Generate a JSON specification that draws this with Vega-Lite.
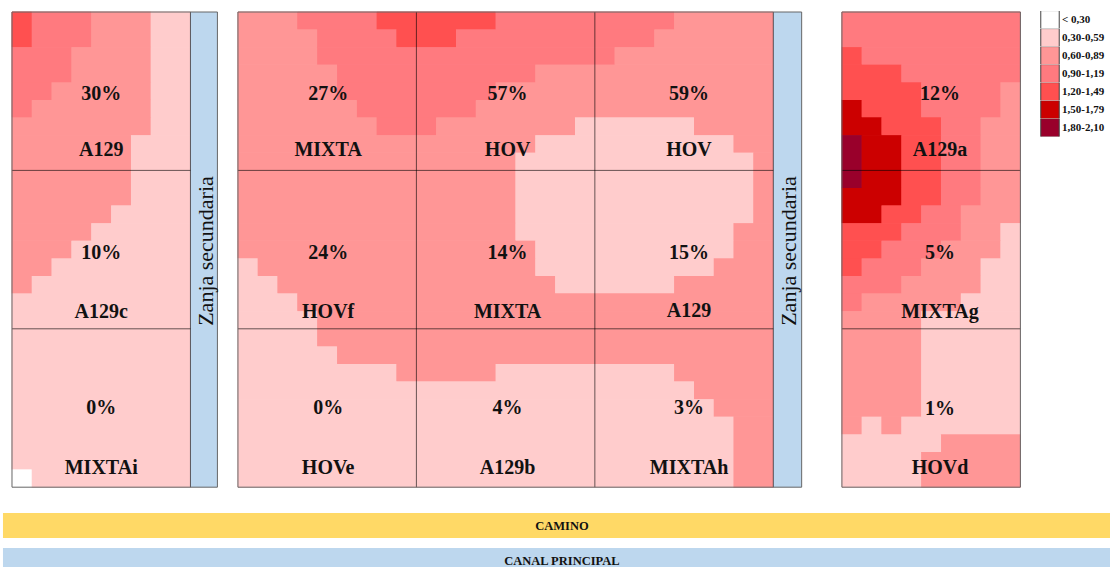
{"$schema":"https://vega.github.io/schema/vega-lite/v6.json","width":1110,"height":567,"padding":0,"autosize":{"type":"pad"},"background":"white","config":{"view":{"stroke":null}},
"data":{"values":[
{"t":"cell","p":1,"r":0,"r2":2,"c":0,"c2":1,"k":"1,20-1,49"},{"t":"cell","p":1,"r":0,"r2":2,"c":1,"c2":4,"k":"0,90-1,19"},{"t":"cell","p":1,"r":0,"r2":2,"c":4,"c2":7,"k":"0,60-0,89"},{"t":"cell","p":1,"r":0,"r2":2,"c":7,"c2":9,"k":"0,30-0,59"},
{"t":"cell","p":1,"r":2,"r2":4,"c":0,"c2":3,"k":"0,90-1,19"},{"t":"cell","p":1,"r":2,"r2":4,"c":3,"c2":7,"k":"0,60-0,89"},{"t":"cell","p":1,"r":2,"r2":4,"c":7,"c2":9,"k":"0,30-0,59"},
{"t":"cell","p":1,"r":4,"r2":5,"c":0,"c2":2,"k":"0,90-1,19"},{"t":"cell","p":1,"r":4,"r2":5,"c":2,"c2":7,"k":"0,60-0,89"},{"t":"cell","p":1,"r":4,"r2":5,"c":7,"c2":9,"k":"0,30-0,59"},
{"t":"cell","p":1,"r":5,"r2":6,"c":0,"c2":1,"k":"0,90-1,19"},{"t":"cell","p":1,"r":5,"r2":6,"c":1,"c2":7,"k":"0,60-0,89"},{"t":"cell","p":1,"r":5,"r2":6,"c":7,"c2":9,"k":"0,30-0,59"},
{"t":"cell","p":1,"r":6,"r2":7,"c":0,"c2":7,"k":"0,60-0,89"},{"t":"cell","p":1,"r":6,"r2":7,"c":7,"c2":9,"k":"0,30-0,59"},
{"t":"cell","p":1,"r":7,"r2":11,"c":0,"c2":6,"k":"0,60-0,89"},{"t":"cell","p":1,"r":7,"r2":11,"c":6,"c2":9,"k":"0,30-0,59"},
{"t":"cell","p":1,"r":11,"r2":12,"c":0,"c2":5,"k":"0,60-0,89"},{"t":"cell","p":1,"r":11,"r2":12,"c":5,"c2":9,"k":"0,30-0,59"},
{"t":"cell","p":1,"r":12,"r2":13,"c":0,"c2":4,"k":"0,60-0,89"},{"t":"cell","p":1,"r":12,"r2":13,"c":4,"c2":9,"k":"0,30-0,59"},
{"t":"cell","p":1,"r":13,"r2":14,"c":0,"c2":3,"k":"0,60-0,89"},{"t":"cell","p":1,"r":13,"r2":14,"c":3,"c2":9,"k":"0,30-0,59"},
{"t":"cell","p":1,"r":14,"r2":15,"c":0,"c2":2,"k":"0,60-0,89"},{"t":"cell","p":1,"r":14,"r2":15,"c":2,"c2":9,"k":"0,30-0,59"},
{"t":"cell","p":1,"r":15,"r2":16,"c":0,"c2":1,"k":"0,60-0,89"},{"t":"cell","p":1,"r":15,"r2":16,"c":1,"c2":9,"k":"0,30-0,59"},
{"t":"cell","p":1,"r":16,"r2":26,"c":0,"c2":9,"k":"0,30-0,59"},
{"t":"cell","p":1,"r":26,"r2":27,"c":0,"c2":1,"k":"< 0,30"},{"t":"cell","p":1,"r":26,"r2":27,"c":1,"c2":9,"k":"0,30-0,59"},

{"t":"cell","p":2,"r":0,"r2":1,"c":0,"c2":3,"k":"0,60-0,89"},{"t":"cell","p":2,"r":0,"r2":1,"c":3,"c2":7,"k":"0,90-1,19"},{"t":"cell","p":2,"r":0,"r2":1,"c":7,"c2":13,"k":"1,20-1,49"},{"t":"cell","p":2,"r":0,"r2":1,"c":13,"c2":22,"k":"0,90-1,19"},{"t":"cell","p":2,"r":0,"r2":1,"c":22,"c2":27,"k":"0,60-0,89"},
{"t":"cell","p":2,"r":1,"r2":2,"c":0,"c2":4,"k":"0,60-0,89"},{"t":"cell","p":2,"r":1,"r2":2,"c":4,"c2":8,"k":"0,90-1,19"},{"t":"cell","p":2,"r":1,"r2":2,"c":8,"c2":11,"k":"1,20-1,49"},{"t":"cell","p":2,"r":1,"r2":2,"c":11,"c2":21,"k":"0,90-1,19"},{"t":"cell","p":2,"r":1,"r2":2,"c":21,"c2":27,"k":"0,60-0,89"},
{"t":"cell","p":2,"r":2,"r2":3,"c":0,"c2":4,"k":"0,60-0,89"},{"t":"cell","p":2,"r":2,"r2":3,"c":4,"c2":19,"k":"0,90-1,19"},{"t":"cell","p":2,"r":2,"r2":3,"c":19,"c2":27,"k":"0,60-0,89"},
{"t":"cell","p":2,"r":3,"r2":4,"c":0,"c2":5,"k":"0,60-0,89"},{"t":"cell","p":2,"r":3,"r2":4,"c":5,"c2":15,"k":"0,90-1,19"},{"t":"cell","p":2,"r":3,"r2":4,"c":15,"c2":27,"k":"0,60-0,89"},
{"t":"cell","p":2,"r":4,"r2":5,"c":0,"c2":5,"k":"0,60-0,89"},{"t":"cell","p":2,"r":4,"r2":5,"c":5,"c2":13,"k":"0,90-1,19"},{"t":"cell","p":2,"r":4,"r2":5,"c":13,"c2":27,"k":"0,60-0,89"},
{"t":"cell","p":2,"r":5,"r2":6,"c":0,"c2":6,"k":"0,60-0,89"},{"t":"cell","p":2,"r":5,"r2":6,"c":6,"c2":12,"k":"0,90-1,19"},{"t":"cell","p":2,"r":5,"r2":6,"c":12,"c2":27,"k":"0,60-0,89"},
{"t":"cell","p":2,"r":6,"r2":7,"c":0,"c2":7,"k":"0,60-0,89"},{"t":"cell","p":2,"r":6,"r2":7,"c":7,"c2":10,"k":"0,90-1,19"},{"t":"cell","p":2,"r":6,"r2":7,"c":10,"c2":17,"k":"0,60-0,89"},{"t":"cell","p":2,"r":6,"r2":7,"c":17,"c2":23,"k":"0,30-0,59"},{"t":"cell","p":2,"r":6,"r2":7,"c":23,"c2":27,"k":"0,60-0,89"},
{"t":"cell","p":2,"r":7,"r2":8,"c":0,"c2":15,"k":"0,60-0,89"},{"t":"cell","p":2,"r":7,"r2":8,"c":15,"c2":25,"k":"0,30-0,59"},{"t":"cell","p":2,"r":7,"r2":8,"c":25,"c2":27,"k":"0,60-0,89"},
{"t":"cell","p":2,"r":8,"r2":12,"c":0,"c2":14,"k":"0,60-0,89"},{"t":"cell","p":2,"r":8,"r2":12,"c":14,"c2":26,"k":"0,30-0,59"},{"t":"cell","p":2,"r":8,"r2":12,"c":26,"c2":27,"k":"0,60-0,89"},
{"t":"cell","p":2,"r":12,"r2":13,"c":0,"c2":14,"k":"0,60-0,89"},{"t":"cell","p":2,"r":12,"r2":13,"c":14,"c2":25,"k":"0,30-0,59"},{"t":"cell","p":2,"r":12,"r2":13,"c":25,"c2":27,"k":"0,60-0,89"},
{"t":"cell","p":2,"r":13,"r2":14,"c":0,"c2":15,"k":"0,60-0,89"},{"t":"cell","p":2,"r":13,"r2":14,"c":15,"c2":25,"k":"0,30-0,59"},{"t":"cell","p":2,"r":13,"r2":14,"c":25,"c2":27,"k":"0,60-0,89"},
{"t":"cell","p":2,"r":14,"r2":15,"c":0,"c2":1,"k":"0,30-0,59"},{"t":"cell","p":2,"r":14,"r2":15,"c":1,"c2":15,"k":"0,60-0,89"},{"t":"cell","p":2,"r":14,"r2":15,"c":15,"c2":24,"k":"0,30-0,59"},{"t":"cell","p":2,"r":14,"r2":15,"c":24,"c2":27,"k":"0,60-0,89"},
{"t":"cell","p":2,"r":15,"r2":16,"c":0,"c2":2,"k":"0,30-0,59"},{"t":"cell","p":2,"r":15,"r2":16,"c":2,"c2":16,"k":"0,60-0,89"},{"t":"cell","p":2,"r":15,"r2":16,"c":16,"c2":22,"k":"0,30-0,59"},{"t":"cell","p":2,"r":15,"r2":16,"c":22,"c2":27,"k":"0,60-0,89"},
{"t":"cell","p":2,"r":16,"r2":17,"c":0,"c2":3,"k":"0,30-0,59"},{"t":"cell","p":2,"r":16,"r2":17,"c":3,"c2":27,"k":"0,60-0,89"},
{"t":"cell","p":2,"r":17,"r2":19,"c":0,"c2":4,"k":"0,30-0,59"},{"t":"cell","p":2,"r":17,"r2":19,"c":4,"c2":27,"k":"0,60-0,89"},
{"t":"cell","p":2,"r":19,"r2":20,"c":0,"c2":5,"k":"0,30-0,59"},{"t":"cell","p":2,"r":19,"r2":20,"c":5,"c2":27,"k":"0,60-0,89"},
{"t":"cell","p":2,"r":20,"r2":21,"c":0,"c2":8,"k":"0,30-0,59"},{"t":"cell","p":2,"r":20,"r2":21,"c":8,"c2":13,"k":"0,60-0,89"},{"t":"cell","p":2,"r":20,"r2":21,"c":13,"c2":22,"k":"0,30-0,59"},{"t":"cell","p":2,"r":20,"r2":21,"c":22,"c2":27,"k":"0,60-0,89"},
{"t":"cell","p":2,"r":21,"r2":22,"c":0,"c2":23,"k":"0,30-0,59"},{"t":"cell","p":2,"r":21,"r2":22,"c":23,"c2":27,"k":"0,60-0,89"},
{"t":"cell","p":2,"r":22,"r2":23,"c":0,"c2":24,"k":"0,30-0,59"},{"t":"cell","p":2,"r":22,"r2":23,"c":24,"c2":27,"k":"0,60-0,89"},
{"t":"cell","p":2,"r":23,"r2":27,"c":0,"c2":25,"k":"0,30-0,59"},{"t":"cell","p":2,"r":23,"r2":27,"c":25,"c2":27,"k":"0,60-0,89"},

{"t":"cell","p":3,"r":0,"r2":2,"c":0,"c2":9,"k":"0,90-1,19"},
{"t":"cell","p":3,"r":2,"r2":3,"c":0,"c2":1,"k":"1,20-1,49"},{"t":"cell","p":3,"r":2,"r2":3,"c":1,"c2":9,"k":"0,90-1,19"},
{"t":"cell","p":3,"r":3,"r2":4,"c":0,"c2":3,"k":"1,20-1,49"},{"t":"cell","p":3,"r":3,"r2":4,"c":3,"c2":9,"k":"0,90-1,19"},
{"t":"cell","p":3,"r":4,"r2":5,"c":0,"c2":4,"k":"1,20-1,49"},{"t":"cell","p":3,"r":4,"r2":5,"c":4,"c2":8,"k":"0,90-1,19"},{"t":"cell","p":3,"r":4,"r2":5,"c":8,"c2":9,"k":"0,60-0,89"},
{"t":"cell","p":3,"r":5,"r2":6,"c":0,"c2":1,"k":"1,50-1,79"},{"t":"cell","p":3,"r":5,"r2":6,"c":1,"c2":4,"k":"1,20-1,49"},{"t":"cell","p":3,"r":5,"r2":6,"c":4,"c2":8,"k":"0,90-1,19"},{"t":"cell","p":3,"r":5,"r2":6,"c":8,"c2":9,"k":"0,60-0,89"},
{"t":"cell","p":3,"r":6,"r2":7,"c":0,"c2":2,"k":"1,50-1,79"},{"t":"cell","p":3,"r":6,"r2":7,"c":2,"c2":5,"k":"1,20-1,49"},{"t":"cell","p":3,"r":6,"r2":7,"c":5,"c2":7,"k":"0,90-1,19"},{"t":"cell","p":3,"r":6,"r2":7,"c":7,"c2":9,"k":"0,60-0,89"},
{"t":"cell","p":3,"r":7,"r2":10,"c":0,"c2":1,"k":"1,80-2,10"},{"t":"cell","p":3,"r":7,"r2":10,"c":1,"c2":3,"k":"1,50-1,79"},{"t":"cell","p":3,"r":7,"r2":10,"c":3,"c2":5,"k":"1,20-1,49"},{"t":"cell","p":3,"r":7,"r2":10,"c":5,"c2":7,"k":"0,90-1,19"},{"t":"cell","p":3,"r":7,"r2":10,"c":7,"c2":9,"k":"0,60-0,89"},
{"t":"cell","p":3,"r":10,"r2":11,"c":0,"c2":3,"k":"1,50-1,79"},{"t":"cell","p":3,"r":10,"r2":11,"c":3,"c2":5,"k":"1,20-1,49"},{"t":"cell","p":3,"r":10,"r2":11,"c":5,"c2":7,"k":"0,90-1,19"},{"t":"cell","p":3,"r":10,"r2":11,"c":7,"c2":9,"k":"0,60-0,89"},
{"t":"cell","p":3,"r":11,"r2":12,"c":0,"c2":2,"k":"1,50-1,79"},{"t":"cell","p":3,"r":11,"r2":12,"c":2,"c2":4,"k":"1,20-1,49"},{"t":"cell","p":3,"r":11,"r2":12,"c":4,"c2":6,"k":"0,90-1,19"},{"t":"cell","p":3,"r":11,"r2":12,"c":6,"c2":9,"k":"0,60-0,89"},
{"t":"cell","p":3,"r":12,"r2":13,"c":0,"c2":3,"k":"1,20-1,49"},{"t":"cell","p":3,"r":12,"r2":13,"c":3,"c2":6,"k":"0,90-1,19"},{"t":"cell","p":3,"r":12,"r2":13,"c":6,"c2":8,"k":"0,60-0,89"},{"t":"cell","p":3,"r":12,"r2":13,"c":8,"c2":9,"k":"0,30-0,59"},
{"t":"cell","p":3,"r":13,"r2":14,"c":0,"c2":2,"k":"1,20-1,49"},{"t":"cell","p":3,"r":13,"r2":14,"c":2,"c2":5,"k":"0,90-1,19"},{"t":"cell","p":3,"r":13,"r2":14,"c":5,"c2":8,"k":"0,60-0,89"},{"t":"cell","p":3,"r":13,"r2":14,"c":8,"c2":9,"k":"0,30-0,59"},
{"t":"cell","p":3,"r":14,"r2":15,"c":0,"c2":1,"k":"1,20-1,49"},{"t":"cell","p":3,"r":14,"r2":15,"c":1,"c2":4,"k":"0,90-1,19"},{"t":"cell","p":3,"r":14,"r2":15,"c":4,"c2":7,"k":"0,60-0,89"},{"t":"cell","p":3,"r":14,"r2":15,"c":7,"c2":9,"k":"0,30-0,59"},
{"t":"cell","p":3,"r":15,"r2":16,"c":0,"c2":3,"k":"0,90-1,19"},{"t":"cell","p":3,"r":15,"r2":16,"c":3,"c2":7,"k":"0,60-0,89"},{"t":"cell","p":3,"r":15,"r2":16,"c":7,"c2":9,"k":"0,30-0,59"},
{"t":"cell","p":3,"r":16,"r2":17,"c":0,"c2":1,"k":"0,90-1,19"},{"t":"cell","p":3,"r":16,"r2":17,"c":1,"c2":6,"k":"0,60-0,89"},{"t":"cell","p":3,"r":16,"r2":17,"c":6,"c2":9,"k":"0,30-0,59"},
{"t":"cell","p":3,"r":17,"r2":23,"c":0,"c2":4,"k":"0,60-0,89"},{"t":"cell","p":3,"r":17,"r2":23,"c":4,"c2":9,"k":"0,30-0,59"},
{"t":"cell","p":3,"r":23,"r2":24,"c":0,"c2":1,"k":"0,60-0,89"},{"t":"cell","p":3,"r":23,"r2":24,"c":1,"c2":2,"k":"0,30-0,59"},{"t":"cell","p":3,"r":23,"r2":24,"c":2,"c2":3,"k":"0,60-0,89"},{"t":"cell","p":3,"r":23,"r2":24,"c":3,"c2":9,"k":"0,30-0,59"},
{"t":"cell","p":3,"r":24,"r2":25,"c":0,"c2":5,"k":"0,30-0,59"},{"t":"cell","p":3,"r":24,"r2":25,"c":5,"c2":9,"k":"0,60-0,89"},
{"t":"cell","p":3,"r":25,"r2":27,"c":0,"c2":4,"k":"0,30-0,59"},{"t":"cell","p":3,"r":25,"r2":27,"c":4,"c2":9,"k":"0,60-0,89"},

{"t":"zanja","p":1,"r":0,"r2":27,"c":9,"c2":10.36},{"t":"zanja","p":2,"r":0,"r2":27,"c":27,"c2":28.43},
{"t":"camino","p":0,"r":29.15,"r2":30.57,"c":0.15,"c2":55.98},
{"t":"canal","p":0,"r":31.14,"r2":32.216,"c":0.15,"c2":55.98},

{"t":"frame","p":1,"r":0,"r2":27,"c":0,"c2":10.36},{"t":"frame","p":2,"r":0,"r2":27,"c":0,"c2":28.43},{"t":"frame","p":3,"r":0,"r2":27,"c":0,"c2":9},

{"t":"line","p":1,"r":9,"r2":9,"c":0,"c2":9},{"t":"line","p":1,"r":18,"r2":18,"c":0,"c2":9},{"t":"line","p":1,"r":0,"r2":27,"c":9,"c2":9},
{"t":"line","p":2,"r":9,"r2":9,"c":0,"c2":27},{"t":"line","p":2,"r":18,"r2":18,"c":0,"c2":27},{"t":"line","p":2,"r":0,"r2":27,"c":9,"c2":9},{"t":"line","p":2,"r":0,"r2":27,"c":18,"c2":18},{"t":"line","p":2,"r":0,"r2":27,"c":27,"c2":27},
{"t":"line","p":3,"r":9,"r2":9,"c":0,"c2":9},{"t":"line","p":3,"r":18,"r2":18,"c":0,"c2":9},

{"t":"label","p":1,"c":4.5,"r":4.6,"s":"30%"},{"t":"label","p":1,"c":4.5,"r":7.78,"s":"A129"},{"t":"label","p":1,"c":4.5,"r":13.64,"s":"10%"},{"t":"label","p":1,"c":4.5,"r":16.99,"s":"A129c"},{"t":"label","p":1,"c":4.5,"r":22.44,"s":"0%"},{"t":"label","p":1,"c":4.5,"r":25.85,"s":"MIXTAi"},
{"t":"label","p":2,"c":4.55,"r":4.6,"s":"27%"},{"t":"label","p":2,"c":4.55,"r":7.78,"s":"MIXTA"},{"t":"label","p":2,"c":4.55,"r":13.64,"s":"24%"},{"t":"label","p":2,"c":4.55,"r":16.99,"s":"HOVf"},{"t":"label","p":2,"c":4.55,"r":22.44,"s":"0%"},{"t":"label","p":2,"c":4.55,"r":25.85,"s":"HOVe"},
{"t":"label","p":2,"c":13.6,"r":4.6,"s":"57%"},{"t":"label","p":2,"c":13.6,"r":7.78,"s":"HOV"},{"t":"label","p":2,"c":13.6,"r":13.64,"s":"14%"},{"t":"label","p":2,"c":13.6,"r":16.99,"s":"MIXTA"},{"t":"label","p":2,"c":13.6,"r":22.44,"s":"4%"},{"t":"label","p":2,"c":13.6,"r":25.85,"s":"A129b"},
{"t":"label","p":2,"c":22.75,"r":4.6,"s":"59%"},{"t":"label","p":2,"c":22.75,"r":7.78,"s":"HOV"},{"t":"label","p":2,"c":22.75,"r":13.64,"s":"15%"},{"t":"label","p":2,"c":22.75,"r":16.93,"s":"A129"},{"t":"label","p":2,"c":22.75,"r":22.44,"s":"3%"},{"t":"label","p":2,"c":22.75,"r":25.85,"s":"MIXTAh"},
{"t":"label","p":3,"c":4.95,"r":4.6,"s":"12%"},{"t":"label","p":3,"c":4.95,"r":7.78,"s":"A129a"},{"t":"label","p":3,"c":4.95,"r":13.64,"s":"5%"},{"t":"label","p":3,"c":4.95,"r":16.99,"s":"MIXTAg"},{"t":"label","p":3,"c":4.95,"r":22.5,"s":"1%"},{"t":"label","p":3,"c":4.95,"r":25.85,"s":"HOVd"},
{"t":"side","p":1,"c":9.78,"r":13.58,"s":"Zanja secundaria"},{"t":"side","p":2,"c":27.8,"r":13.58,"s":"Zanja secundaria"},
{"t":"road","p":0,"c":28.34,"r":29.86,"s":"CAMINO"},{"t":"road","p":0,"c":28.34,"r":31.88,"s":"CANAL PRINCIPAL"}
]},
"transform":[
{"calculate":"(datum.p==1?0.605:datum.p==2?12:datum.p==3?42.46:0)+datum.c","as":"x0"},
{"calculate":"(datum.p==1?0.605:datum.p==2?12:datum.p==3?42.46:0)+datum.c2","as":"x1"},
{"calculate":"(datum.p==0?0:0.682)+datum.r","as":"y0"},
{"calculate":"(datum.p==0?0:0.682)+datum.r2","as":"y1"}
],
"encoding":{
"x":{"field":"x0","type":"quantitative","axis":null,"scale":{"domain":[0,55.98],"nice":false,"zero":false}},
"y":{"field":"y0","type":"quantitative","axis":null,"scale":{"domain":[0,32.216],"nice":false,"zero":false,"reverse":true}}
},
"layer":[
{"transform":[{"filter":"datum.t=='cell'"}],"mark":{"type":"rect","fillOpacity":0,"strokeWidth":1},
"encoding":{"x2":{"field":"x1"},"y2":{"field":"y1"},
"stroke":{"field":"k","type":"nominal","scale":{"domain":["1,80-2,10","1,50-1,79","1,20-1,49","0,90-1,19","0,60-0,89","0,30-0,59","< 0,30"],"range":["#99002B","#CC0000","#FF5050","#FF7A7F","#FF9696","#FFCCCC","#FFFFFF"]},"legend":null}}},
{"transform":[{"filter":"datum.t=='cell'"}],"mark":{"type":"rect","opacity":1},
"encoding":{"x2":{"field":"x1"},"y2":{"field":"y1"},
"fill":{"field":"k","type":"nominal","scale":{"domain":["< 0,30","0,30-0,59","0,60-0,89","0,90-1,19","1,20-1,49","1,50-1,79","1,80-2,10"],"range":["#FFFFFF","#FFCCCC","#FF9696","#FF7A7F","#FF5050","#CC0000","#99002B"]},
"legend":{"title":null,"orient":"none","legendX":1040,"legendY":11,"symbolType":"square","symbolSize":340,"symbolOpacity":1,"symbolStrokeColor":"#444444","symbolStrokeWidth":1,"clipHeight":17.6,"rowPadding":0,"padding":0,"labelFont":"Liberation Serif","labelFontWeight":"bold","labelFontSize":11,"labelColor":"#111111","labelOffset":2}}}},
{"transform":[{"filter":"datum.t=='zanja'"}],"mark":{"type":"rect","fill":"#BDD7EE"},"encoding":{"x2":{"field":"x1"},"y2":{"field":"y1"}}},
{"transform":[{"filter":"datum.t=='camino'"}],"mark":{"type":"rect","fill":"#FFD966"},"encoding":{"x2":{"field":"x1"},"y2":{"field":"y1"}}},
{"transform":[{"filter":"datum.t=='canal'"}],"mark":{"type":"rect","fill":"#BDD7EE"},"encoding":{"x2":{"field":"x1"},"y2":{"field":"y1"}}},
{"transform":[{"filter":"datum.t=='line'"}],"mark":{"type":"rule","color":"#000000","strokeWidth":1,"opacity":0.6},"encoding":{"x2":{"field":"x1"},"y2":{"field":"y1"}}},
{"transform":[{"filter":"datum.t=='frame'"}],"mark":{"type":"rect","fillOpacity":0,"stroke":"#666666","strokeWidth":1},"encoding":{"x2":{"field":"x1"},"y2":{"field":"y1"}}},
{"transform":[{"filter":"datum.t=='label'"}],"mark":{"type":"text","font":"Liberation Serif","fontWeight":"bold","fontSize":20,"color":"#111111","baseline":"middle","align":"center","dy":1},"encoding":{"text":{"field":"s"}}},
{"transform":[{"filter":"datum.t=='side'"}],"mark":{"type":"text","font":"Liberation Serif","fontSize":22,"angle":270,"color":"#111111","baseline":"middle","align":"center"},"encoding":{"text":{"field":"s"}}},
{"transform":[{"filter":"datum.t=='road'"}],"mark":{"type":"text","font":"Liberation Serif","fontWeight":"bold","fontSize":12.5,"color":"#111111","baseline":"middle","align":"center"},"encoding":{"text":{"field":"s"}}}
]}
